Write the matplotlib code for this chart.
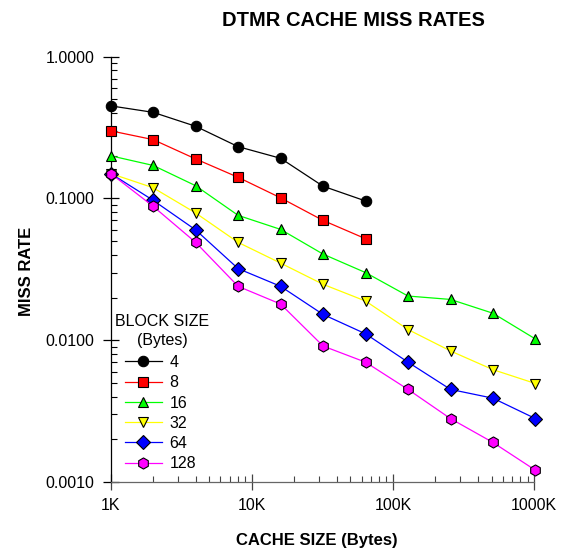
import numpy as np
import matplotlib
matplotlib.use("Agg")
from matplotlib import pyplot as plt
from matplotlib.ticker import LogLocator, NullFormatter

plt.rcParams['font.family'] = ['Liberation Sans', 'DejaVu Sans']

# cache sizes in KB
sizes = [1, 2, 4, 8, 16, 32, 64, 128, 256, 512, 1024]
block_sizes = ['4', '8', '16', '32', '64', '128']

miss_4 = [0.45, 0.405, 0.323, 0.232, 0.192, 0.122, 0.096]
miss_8 = [0.30, 0.26, 0.19, 0.141, 0.101, 0.070, 0.052]
miss_16 = [0.20, 0.171, 0.123, 0.076, 0.0605, 0.0405, 0.030, 0.0205, 0.0194, 0.0155, 0.0102]
miss_32 = [0.15, 0.119, 0.079, 0.049, 0.035, 0.0248, 0.0189, 0.0119, 0.0084, 0.0062, 0.00495]
miss_64 = [0.15, 0.097, 0.060, 0.032, 0.024, 0.0152, 0.0111, 0.0070, 0.0045, 0.0039, 0.0028]
miss_128 = [0.15, 0.088, 0.049, 0.024, 0.018, 0.0091, 0.0070, 0.0045, 0.0028, 0.0019, 0.00121]

series = [miss_4, miss_8, miss_16, miss_32, miss_64, miss_128]
colors = ['black', '#ff0000', '#00ff00', '#ffff00', '#0000ff', '#ff00ff']
markers = ['o', 's', '^', 'v', 'D', 'h']
msizes = [7.5, 7, 7.5, 7.5, 7, 8]

W, H = 561, 552
fig = plt.figure(figsize=(W/100, H/100), dpi=100)
x0, x1, ytop, ybot = 110.7, 534, 56.7, 482
ax = fig.add_axes([x0/W, (H-ybot)/H, (x1-x0)/W, (ybot-ytop)/H])

for vals, lab, c, m, ms in zip(series, block_sizes, colors, markers, msizes):
    ax.plot(sizes[:len(vals)], vals, color=c, lw=0.9, marker=m, ms=ms,
            mfc=c, mec='black', mew=0.8, label=lab, clip_on=False, zorder=3)

ax.set_xscale('log')
ax.set_yscale('log')
ax.set_xlim(1, 1000)
ax.set_ylim(0.001, 1.0)

ax.set_xticks([1, 10, 100, 1000])
ax.set_xticklabels(['1K', '10K', '100K', '1000K'])
ax.set_yticks([0.001, 0.01, 0.1, 1.0])
ax.set_yticklabels(['0.0010', '0.0100', '0.1000', '1.0000'])
ax.xaxis.set_minor_locator(LogLocator(base=10, subs=np.arange(2, 10)))
ax.yaxis.set_minor_locator(LogLocator(base=10, subs=np.arange(2, 10)))
ax.xaxis.set_minor_formatter(NullFormatter())
ax.yaxis.set_minor_formatter(NullFormatter())

ax.tick_params(which='major', direction='inout', length=11, width=0.9,
               labelsize=11.5, pad=6)
ax.tick_params(which='minor', direction='in', length=4, width=0.8)
ax.tick_params(axis='x', which='both', color='#444444')

for s in ['top', 'right']:
    ax.spines[s].set_visible(False)
ax.spines['left'].set_linewidth(0.9)
ax.spines['bottom'].set_linewidth(0.9)
ax.spines['bottom'].set_color('#666666')

fig.text(353/W, 1-20/H, 'DTMR CACHE MISS RATES', ha='center', va='center',
         fontsize=14.5, fontweight='bold')
fig.text(317/W, 1-540/H, 'CACHE SIZE (Bytes)', ha='center', va='center',
         fontsize=12, fontweight='bold')
fig.text(27/W, 1-271/H, 'MISS RATE', ha='center', va='center',
         fontsize=12, fontweight='bold', rotation=90)

# legend heading
fig.text(115/W, 1-322/H, 'BLOCK SIZE', ha='left', va='center', fontsize=11.5)
fig.text(162/W, 1-341/H, '(Bytes)', ha='center', va='center', fontsize=11.5)

leg = ax.legend(loc='upper left', bbox_to_anchor=(125/W, 1-355/H),
                bbox_transform=fig.transFigure, frameon=False,
                fontsize=11.5, handlelength=2.3, handletextpad=0.5,
                labelspacing=0.33, borderpad=0, borderaxespad=0)

fig.savefig('out.png', dpi=100)
